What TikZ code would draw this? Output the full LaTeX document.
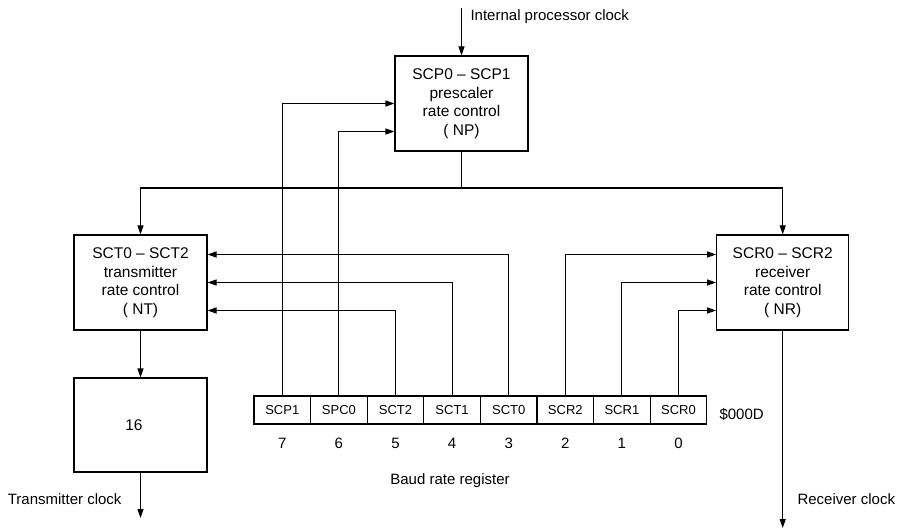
\documentclass[tikz,border=0pt]{standalone}
\usepackage{fontspec}
\setmainfont{Liberation Sans}
\usetikzlibrary{arrows.meta,calc}
\begin{document}
\begin{tikzpicture}[x=1pt,y=-1pt,
  line width=1.1pt,
  arr/.style={-{Triangle[length=9pt,width=6pt]}},
  blk/.style={draw,minimum width=133pt,minimum height=95pt,inner sep=0pt,align=center,font=\fontsize{15.5}{18.5}\selectfont},
  cell/.style={draw,minimum width=56.6pt,minimum height=28pt,inner sep=0pt,font=\fontsize{13}{15}\selectfont},
  lbl/.style={inner sep=0pt,font=\fontsize{15}{18}\selectfont}]
\useasboundingbox (0,0) rectangle (897,529);
% boxes
\node[blk] (pre) at (461.5,103.5) {SCP0 -- SCP1\\prescaler\\rate control\\( NP)};
\node[blk] (sct) at (140.5,282.5) {SCT0 -- SCT2\\transmitter\\rate control\\( NT)};
\node[blk,minimum height=94pt] (div) at (140.5,425) {};
\node[lbl,font=\fontsize{15.5}{18}\selectfont] (divt) at (134,425) {16};
\node[blk,minimum width=132pt] (scr) at (782.7,282.5) {SCR0 -- SCR2\\receiver\\rate control\\( NR)};
% register
\node[cell] (r7) at (282.3,410) {SCP1};
\node[cell] (r6) at (338.9,410) {SPC0};
\node[cell] (r5) at (395.5,410) {SCT2};
\node[cell] (r4) at (452.1,410) {SCT1};
\node[cell] (r3) at (508.7,410) {SCT0};
\node[cell] (r2) at (565.3,410) {SCR2};
\node[cell] (r1) at (621.9,410) {SCR1};
\node[cell] (r0) at (678.5,410) {SCR0};
\foreach \i in {0,...,7}{
  \node[lbl] (n\i) at ($(r\i.center)+(0,33)$) {\i};
}
\node[lbl,anchor=west] (addr) at (719,414) {\$000D};
\node[lbl] (breg) at (450,481) {Baud rate register};
% clock inputs/outputs
\coordinate (cin) at (461.5,8);
\node[lbl,anchor=west] (cinl) at (470,17) {Internal processor clock};
\draw[arr] (cin) -- (pre.north);
\coordinate (bus) at (461.5,188);
\draw (pre.south) -- (bus);
\draw[arr] (bus) -| (sct.north);
\draw[arr] (bus) -| (scr.north);
\draw[arr] (sct.south) -- (div.north);
\coordinate (tx) at (140.5,518);
\draw[arr] (div.south) -- (tx);
\node[lbl,anchor=east] (txl) at (122,499) {Transmitter clock};
\coordinate (rx) at (782.7,528);
\draw[arr] (scr.south) -- (rx);
\node[lbl,anchor=west] (rxl) at (797,499) {Receiver clock};
% register connections
\draw[arr] (r7.north) |- (pre.west);
\draw[arr] (r6.north) |- ($(pre.west)+(0,28)$);
\draw[arr] (r3.north) |- ($(sct.east)+(0,-28)$);
\draw[arr] (r4.north) |- (sct.east);
\draw[arr] (r5.north) |- ($(sct.east)+(0,28)$);
\draw[arr] (r2.north) |- ($(scr.west)+(0,-28)$);
\draw[arr] (r1.north) |- (scr.west);
\draw[arr] (r0.north) |- ($(scr.west)+(0,28)$);
\end{tikzpicture}
\end{document}
